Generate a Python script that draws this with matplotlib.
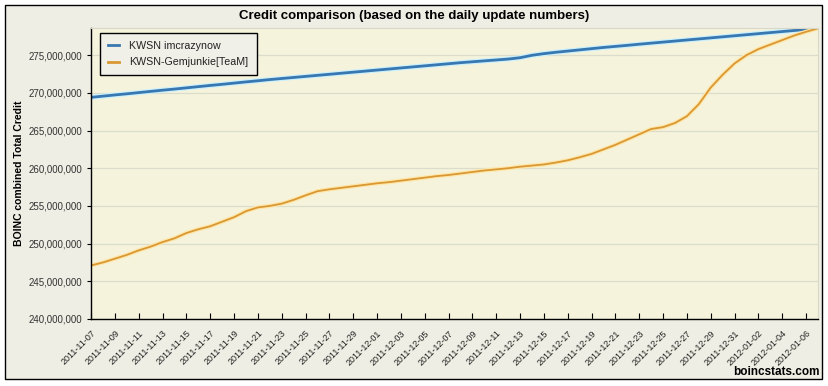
import numpy as np
import pandas as pd
import matplotlib
matplotlib.use("Agg")
import matplotlib.pyplot as plt
import matplotlib.dates as mdates
import matplotlib.patheffects as pe
from matplotlib.patches import Rectangle
from matplotlib.ticker import FuncFormatter

plt.rcParams['font.family'] = ['Liberation Sans', 'DejaVu Sans']

# daily dates, 2011-11-07 .. 2012-01-07
dates = pd.date_range('2011-11-07', '2012-01-07', freq='D')

# combined total credit, millions
imcrazynow = [269.40, 269.56, 269.72, 269.87, 270.03, 270.19, 270.35, 270.50,
              270.66, 270.82, 270.98, 271.13, 271.29, 271.45, 271.60, 271.76,
              271.90, 272.04, 272.18, 272.32, 272.46, 272.60, 272.74, 272.88,
              273.02, 273.16, 273.30, 273.44, 273.58, 273.72, 273.86, 274.00,
              274.12, 274.24, 274.36, 274.48, 274.66, 274.98, 275.20, 275.38,
              275.54, 275.70, 275.86, 276.02, 276.16, 276.30, 276.45, 276.59,
              276.73, 276.87, 277.01, 277.15, 277.29, 277.43, 277.57, 277.71,
              277.85, 277.99, 278.13, 278.27, 278.41, 278.55]
gemjunkie = [247.10, 247.50, 248.00, 248.50, 249.10, 249.60, 250.20, 250.70,
             251.40, 251.90, 252.30, 252.90, 253.50, 254.30, 254.80, 255.00,
             255.30, 255.80, 256.40, 256.95, 257.20, 257.40, 257.60, 257.80,
             258.00, 258.15, 258.35, 258.55, 258.75, 258.95, 259.10, 259.30,
             259.50, 259.70, 259.85, 260.00, 260.20, 260.35, 260.50, 260.75,
             261.05, 261.45, 261.90, 262.50, 263.10, 263.80, 264.50, 265.20,
             265.45, 266.00, 266.90, 268.50, 270.70, 272.40, 273.90, 275.00,
             275.80, 276.40, 277.00, 277.60, 278.10, 278.55]

names = ['KWSN imcrazynow', 'KWSN-Gemjunkie[TeaM]']
yticks = [240e6, 245e6, 250e6, 255e6, 260e6, 265e6, 270e6, 275e6]

fig = plt.figure(figsize=(8.29, 3.86), dpi=100, facecolor='white')
# outer frame, behind the axes
fig.patches.append(Rectangle((5/829, 1 - 379/386), 817/829, 374/386,
                             transform=fig.transFigure, facecolor='#eeeee4',
                             edgecolor='black', linewidth=1, zorder=-5))

ax = fig.add_axes([91/829, 1 - 319/386, 727/829, 291/386])
ax.set_facecolor('#f5f3dc')

blue = np.array(imcrazynow) * 1e6
orange = np.array(gemjunkie) * 1e6
ax.plot(dates, blue, color='#3977b0', lw=2, label=names[0],
        path_effects=[pe.Stroke(linewidth=3.6, foreground='#c8f0ff'), pe.Normal()])
ax.plot(dates, orange, color='#d99833', lw=1.3, label=names[1],
        path_effects=[pe.Stroke(linewidth=3.0, foreground='#ffe6a8'), pe.Normal()])

ax.set_xlim(dates[0], dates[-1])
ax.set_ylim(240e6, 278.6e6)
ax.set_yticks(yticks)
ax.yaxis.set_major_formatter(FuncFormatter(lambda v, p: f'{v:,.0f}'))
ax.grid(axis='y', color='#dcdccc', lw=0.9)
ax.set_axisbelow(True)

ax.set_xticks(dates[:-1:2])
ax.xaxis.set_major_formatter(mdates.DateFormatter('%Y-%m-%d'))
plt.setp(ax.get_xticklabels(), rotation=45, ha='right', va='top',
         rotation_mode='anchor', fontsize=6.5, color='#222222')
ax.tick_params(axis='x', direction='in', length=4, width=0.8, pad=7)
ax.tick_params(axis='y', direction='out', length=3, width=0.8, labelsize=7,
               labelcolor='#333333', pad=3)

for s in ['top', 'right']:
    ax.spines[s].set_color('#d8d8c8')
for s in ['left', 'bottom']:
    ax.spines[s].set_color('black')
    ax.spines[s].set_linewidth(1)

ax.set_ylabel('BOINC combined Total Credit', fontsize=7.5, fontweight='bold',
              labelpad=8)
ax.yaxis.set_label_coords(-0.092, 0.5)

leg = ax.legend(loc='upper left', bbox_to_anchor=(0.0124, 0.983),
                borderaxespad=0, fontsize=7.7, frameon=True, fancybox=False,
                handlelength=1.0, borderpad=0.75, labelspacing=0.6,
                handletextpad=1.0)
leg.get_frame().set_edgecolor('black')
leg.get_frame().set_facecolor('#f1f0e8')
leg.get_frame().set_linewidth(1)
leg.get_frame().set_alpha(1)
for t in leg.get_texts():
    t.set_color('#222222')
for h in leg.get_lines():
    h.set_path_effects([])
    h.set_linewidth(2)

fig.text(0.5, 1 - 16/386, 'Credit comparison (based on the daily update numbers)',
         ha='center', va='center', fontsize=9.5, fontweight='bold')
fig.text(820/829, 1 - 372/386, 'boincstats.com', ha='right', va='center',
         fontsize=8.5, fontweight='bold')

fig.savefig('out.png', dpi=100, facecolor='white')
